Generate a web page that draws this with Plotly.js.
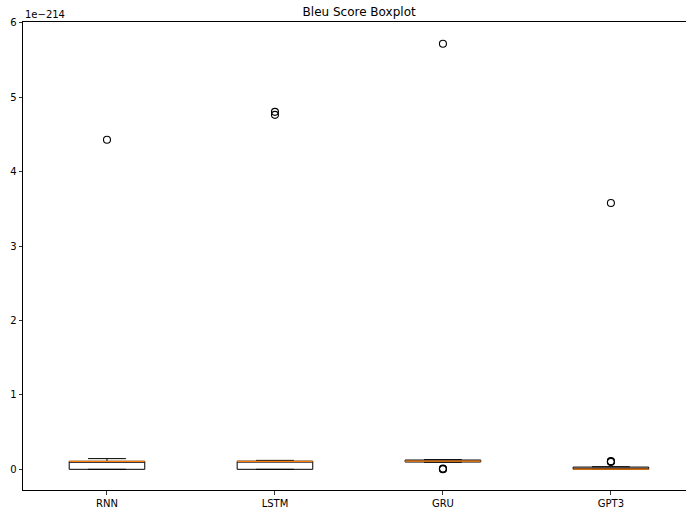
<!DOCTYPE html>
<html>
<head>
<meta charset="utf-8">
<script src="https://cdn.plot.ly/plotly-3.0.1.min.js"></script>
<style>html,body{margin:0;padding:0;background:#fff}</style>
</head>
<body>
<div id="chart" style="width:686px;height:508px"></div>
<script>
// values in units of 1e-214
const categories = ["RNN", "LSTM", "GRU", "GPT3"];
const positions = [1, 2, 3, 4];
const q1 = [0.0, 0.0, 0.098, 0.0];
const medians = [0.107, 0.108, 0.11, 0.003];
const q3 = [0.108, 0.11, 0.125, 0.03];
const lowerWhisker = [0.0, 0.0, 0.095, 0.0];
const upperWhisker = [0.144, 0.12, 0.13, 0.035];
const outliers = [
  [4.43],
  [4.805, 4.765],
  [5.72, 0.01, 0.005, 0.0],
  [3.58, 0.105, 0.1, 0.11]
];

const boxWidth = 0.45;
const traces = [];

traces.push({
  type: "box",
  x: positions,
  q1: q1,
  median: medians,
  q3: q3,
  lowerfence: lowerWhisker,
  upperfence: upperWhisker,
  width: boxWidth,
  whiskerwidth: 0.5,
  fillcolor: "rgba(0,0,0,0)",
  line: {color: "#000000", width: 1},
  boxpoints: false,
  hoverinfo: "skip",
  showlegend: false
});

// orange median lines
const mx = [], my = [];
positions.forEach((p, i) => {
  mx.push(p - boxWidth / 2, p + boxWidth / 2, null);
  my.push(medians[i], medians[i], null);
});
traces.push({
  type: "scatter", mode: "lines", x: mx, y: my,
  line: {color: "#ff7f0e", width: 1.3},
  showlegend: false, hoverinfo: "skip"
});

// outliers
const ox = [], oy = [];
positions.forEach((p, i) => {
  outliers[i].forEach(v => { ox.push(p); oy.push(v); });
});
traces.push({
  type: "scatter", mode: "markers", x: ox, y: oy,
  marker: {symbol: "circle-open", size: 7, color: "#000000", line: {width: 1.1, color: "#000000"}},
  showlegend: false, hoverinfo: "skip"
});

const layout = {
  width: 686, height: 508,
  margin: {l: 23, r: 0, t: 22, b: 18},
  paper_bgcolor: "#ffffff",
  plot_bgcolor: "#ffffff",
  font: {family: "DejaVu Sans", size: 10, color: "#000000"},
  title: {text: "Bleu Score Boxplot", font: {family: "DejaVu Sans", size: 12, color: "#000"}, xref: "paper", x: 0.507, xanchor: "center", yref: "container", y: 0.976, yanchor: "middle"},
  xaxis: {
    range: [0.5, 4.447],
    tickvals: positions, ticktext: categories,
    showgrid: false, zeroline: false,
    showline: true, mirror: true, linecolor: "#000", linewidth: 1,
    ticks: "outside", ticklen: 3.5, tickwidth: 0.8, tickcolor: "#000",
    tickfont: {size: 10}
  },
  yaxis: {
    range: [-0.278, 6.013],
    tickvals: [0, 1, 2, 3, 4, 5, 6],
    ticktext: ["0", "1", "2", "3", "4", "5", "6"],
    showgrid: false, zeroline: false,
    showline: true, mirror: false, linecolor: "#000", linewidth: 1,
    ticks: "outside", ticklen: 3.5, tickwidth: 0.8, tickcolor: "#000",
    tickfont: {size: 10}
  },
  annotations: [{
    text: "1e\u2212214", xref: "paper", yref: "paper", x: 0, y: 1,
    xanchor: "left", yanchor: "bottom", showarrow: false, yshift: 0,
    font: {family: "DejaVu Sans", size: 10, color: "#000"}
  }]
};

Plotly.newPlot("chart", traces, layout, {displayModeBar: false, staticPlot: true});
</script>
</body>
</html>
